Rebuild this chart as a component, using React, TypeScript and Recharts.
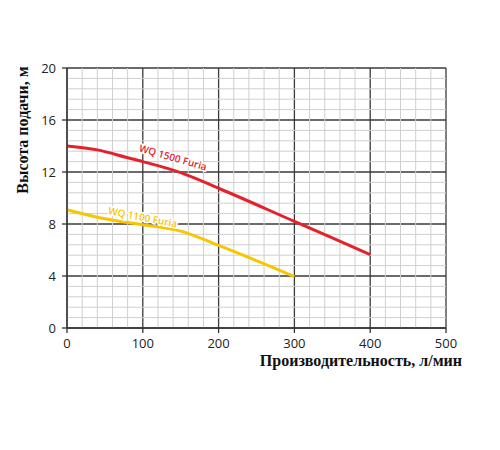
import React from "react";
import {
  LineChart,
  Line,
  XAxis,
  YAxis,
  CartesianGrid,
  ReferenceLine,
  ReferenceDot,
  Label,
} from "recharts";

// flow, l/min
const flow1500 = [0, 40, 80, 100, 150, 200, 300, 400];
const head1500 = [14.0, 13.7, 13.1, 12.8, 11.95, 10.75, 8.2, 5.65];
const flow1100 = [0, 50, 100, 150, 200, 300];
const head1100 = [9.1, 8.4, 7.95, 7.45, 6.35, 3.95];

const xTicks = [0, 100, 200, 300, 400, 500];
const yTicks = [0, 4, 8, 12, 16, 20];
const xMinor = [20, 40, 60, 80, 120, 140, 160, 180, 220, 240, 260, 280, 320, 340, 360, 380, 420, 440, 460, 480];
const yMinor = [0.8, 1.6, 2.4, 3.2, 4.8, 5.6, 6.4, 7.2, 8.8, 9.6, 10.4, 11.2, 12.8, 13.6, 14.4, 15.2, 16.8, 17.6, 18.4, 19.2];

const series1500 = flow1500.map((q, i) => ({ q, h: head1500[i] }));
const series1100 = flow1100.map((q, i) => ({ q, h: head1100[i] }));

const RED = "#e3222b";
const YELLOW = "#f7c600";

const tickStyle = { fontSize: 13, fill: "#222", fontFamily: "Open Sans", fontWeight: 500 };
const titleFont = "Liberation Serif";

function curveLabel(text: string, color: string, angle: number) {
  return (props: any) => {
    const { viewBox } = props;
    const cx = viewBox.x + (viewBox.width || 0) / 2;
    const cy = viewBox.y + (viewBox.height || 0) / 2;
    return (
      <text
        x={cx}
        y={cy}
        textAnchor="middle"
        dominantBaseline="central"
        transform={`rotate(${angle} ${cx} ${cy})`}
        fontFamily="Open Sans"
        fontWeight={600}
        fontSize={10}
        fill={color}
        stroke="#fff"
        strokeWidth={3}
        paintOrder="stroke"
      >
        {text}
      </text>
    );
  };
}

export default function App() {
  return (
    <div style={{ position: "absolute", left: 0, top: 0, width: 500, height: 450 }}>
      <LineChart
        width={500}
        height={450}
        margin={{ top: 68, right: 54, bottom: 82, left: 0 }}
      >
        {xMinor.map((v) => (
          <ReferenceLine key={"x" + v} x={v} stroke="#cfcfcf" strokeWidth={1} />
        ))}
        {yMinor.map((v) => (
          <ReferenceLine key={"y" + v} y={v} stroke="#cfcfcf" strokeWidth={1} />
        ))}
        <CartesianGrid stroke="#3a3a3a" strokeWidth={1.3} />
        <XAxis
          dataKey="q"
          type="number"
          domain={[0, 500]}
          ticks={xTicks}
          allowDuplicatedCategory={false}
          height={40}
          tickSize={5}
          tickMargin={6}
          tick={tickStyle}
          stroke="#333"
          strokeWidth={1.3}
        >
          <Label
            content={(props: any) => {
              const vb = props.viewBox;
              return (
                <text
                  x={vb.x + vb.width + 16}
                  y={vb.y + 38}
                  textAnchor="end"
                  fontFamily={titleFont}
                  fontWeight={700}
                  fontSize={16}
                  fill="#111"
                >
                  Производительность, л/мин
                </text>
              );
            }}
          />
        </XAxis>
        <YAxis
          dataKey="h"
          type="number"
          domain={[0, 20]}
          ticks={yTicks}
          width={67}
          tickSize={5}
          tickMargin={6}
          tick={tickStyle}
          stroke="#333"
          strokeWidth={1.3}
        >
          <Label
            content={(props: any) => {
              const vb = props.viewBox;
              const cx = 22;
              const cy = vb.y + 62;
              return (
                <text
                  x={cx}
                  y={cy}
                  textAnchor="middle"
                  dominantBaseline="central"
                  transform={`rotate(-90 ${cx} ${cy})`}
                  fontFamily={titleFont}
                  fontWeight={700}
                  fontSize={16}
                  fill="#111"
                >
                  Высота подачи, м
                </text>
              );
            }}
          />
        </YAxis>
        <Line
          data={series1100}
          dataKey="h"
          type="monotone"
          stroke={YELLOW}
          strokeWidth={3}
          dot={false}
          isAnimationActive={false}
        />
        <Line
          data={series1500}
          dataKey="h"
          type="monotone"
          stroke={RED}
          strokeWidth={3}
          dot={false}
          isAnimationActive={false}
        />
        <ReferenceDot
          x={140}
          y={13.15}
          r={0}
          stroke="none"
          label={curveLabel("WQ 1500 Furia", RED, 16)}
        />
        <ReferenceDot
          x={100}
          y={8.55}
          r={0}
          stroke="none"
          label={curveLabel("WQ 1100 Furia", YELLOW, 11)}
        />
      </LineChart>
    </div>
  );
}
